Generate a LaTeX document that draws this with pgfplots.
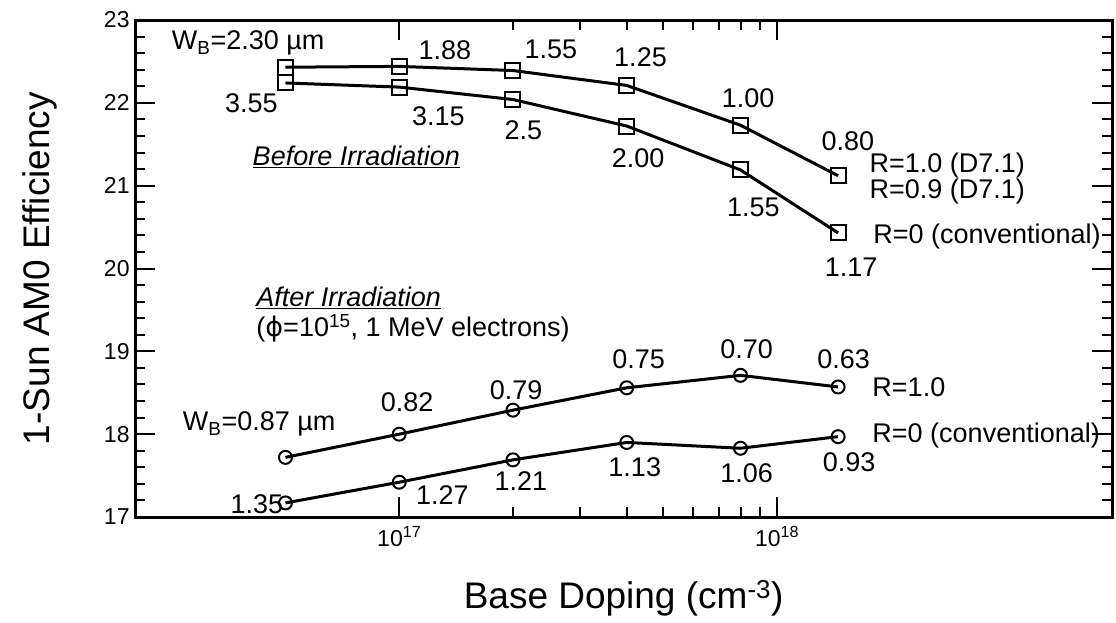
\documentclass[border=0pt]{standalone}
\usepackage{pgfplots}
\pgfplotsset{compat=1.18}
\usepackage{fontspec}
\setmainfont{Liberation Sans}
\newfontfamily\dejavu{DejaVu Sans}
\newcommand\lbl{\fontsize{27}{32}\selectfont}
\newcommand\tkf{\fontsize{23}{27}\selectfont}
\begin{document}
\begin{tikzpicture}[x=1pt,y=1pt]
\useasboundingbox (0,0) rectangle (1116,622);
\begin{axis}[at={(135pt,105pt)}, anchor=south west, scale only axis,
  width=977pt, height=497pt,
  xmode=log, xmin=2e16, xmax=7.7e18, ymin=17, ymax=23,
  xtick={1e17,1e18}, xticklabels={\tkf 10\textsuperscript{17},\tkf 10\textsuperscript{18}},
  ytick={17,18,...,23}, yticklabels={\tkf 17,\tkf 18,\tkf 19,\tkf 20,\tkf 21,\tkf 22,\tkf 23},
  minor y tick num=4,
  tick align=inside, major tick length=20pt, minor tick length=10pt,
  every tick/.style={line width=2pt, black},
  axis line style={line width=3pt},
  tick label style={font=\tkf},
  xticklabel shift=6pt, yticklabel shift=2pt,
  xlabel={Base Doping (cm\textsuperscript{-3})},
  ylabel={1-Sun AM0 Efficiency},
  label style={font=\fontsize{37}{42}\selectfont},
  xlabel style={at={(axis description cs:0.5,-0.1831)}, anchor=base},
  ylabel style={at={(axis description cs:-0.0972,0.5)}, anchor=center},
  clip=false]
% Before irradiation
\addplot[line width=3pt, mark=square, mark size=7.5pt, mark options={line width=2pt, solid}] coordinates {
 (5e16,22.43) (1e17,22.44) (2e17,22.39) (4e17,22.21) (8e17,21.73) (1.45e18,21.12)};
\addplot[line width=3pt, mark=square, mark size=7.5pt, mark options={line width=2pt, solid}] coordinates {
 (5e16,22.24) (1e17,22.19) (2e17,22.04) (4e17,21.72) (8e17,21.19) (1.45e18,20.43)};
% After irradiation
\addplot[line width=3pt, mark=o, mark size=6.5pt, mark options={line width=2pt, solid}] coordinates {
 (5e16,17.72) (1e17,18.0) (2e17,18.29) (4e17,18.56) (8e17,18.71) (1.45e18,18.57)};
\addplot[line width=3pt, mark=o, mark size=6.5pt, mark options={line width=2pt, solid}] coordinates {
 (5e16,17.17) (1e17,17.42) (2e17,17.69) (4e17,17.9) (8e17,17.83) (1.45e18,17.97)};
% labels before
\node[font=\lbl, anchor=west] at (axis cs:2.45e16,22.72) {W\textsubscript{B}=2.30 µm};
\node[font=\lbl] at (axis cs:1.32e17,22.64) {1.88};
\node[font=\lbl] at (axis cs:2.52e17,22.64) {1.55};
\node[font=\lbl] at (axis cs:4.35e17,22.55) {1.25};
\node[font=\lbl] at (axis cs:8.38e17,22.05) {1.00};
\node[font=\lbl] at (axis cs:1.54e18,21.54) {0.80};
\node[font=\lbl, anchor=west] at (axis cs:1.72e18,21.24) {R=1.0 (D7.1)};
\node[font=\lbl, anchor=west] at (axis cs:1.72e18,20.93) {R=0.9 (D7.1)};
\node[font=\lbl, anchor=west] at (axis cs:1.76e18,20.39) {R=0 (conventional)};
\node[font=\lbl] at (axis cs:1.57e18,20.02) {1.17};
\node[font=\lbl] at (axis cs:8.65e17,20.74) {1.55};
\node[font=\lbl] at (axis cs:4.29e17,21.33) {2.00};
\node[font=\lbl] at (axis cs:2.13e17,21.67) {2.5};
\node[font=\lbl] at (axis cs:1.27e17,21.84) {3.15};
\node[font=\lbl] at (axis cs:4.06e16,21.99) {3.55};
\node[font=\lbl] at (axis cs:7.7e16,21.35) {\underline{\itshape Before Irradiation}};
% labels after
\node[font=\lbl, anchor=west] at (axis cs:4.1e16,19.65) {\underline{\itshape After Irradiation}};
\node[font=\lbl, anchor=west] at (axis cs:4.1e16,19.28) {({\dejavu ϕ}=10\textsuperscript{15}, 1 MeV electrons)};
\node[font=\lbl, anchor=west] at (axis cs:2.62e16,18.12) {W\textsubscript{B}=0.87 µm};
\node[font=\lbl] at (axis cs:1.05e17,18.39) {0.82};
\node[font=\lbl] at (axis cs:2.04e17,18.53) {0.79};
\node[font=\lbl] at (axis cs:4.3e17,18.9) {0.75};
\node[font=\lbl] at (axis cs:8.3e17,19.02) {0.70};
\node[font=\lbl] at (axis cs:1.5e18,18.9) {0.63};
\node[font=\lbl, anchor=west] at (axis cs:1.75e18,18.57) {R=1.0};
\node[font=\lbl, anchor=west] at (axis cs:1.75e18,17.98) {R=0 (conventional)};
\node[font=\lbl] at (axis cs:4.2e16,17.15) {1.35};
\node[font=\lbl] at (axis cs:1.3e17,17.27) {1.27};
\node[font=\lbl] at (axis cs:2.1e17,17.43) {1.21};
\node[font=\lbl] at (axis cs:4.2e17,17.6) {1.13};
\node[font=\lbl] at (axis cs:8.3e17,17.53) {1.06};
\node[font=\lbl] at (axis cs:1.55e18,17.66) {0.93};
\end{axis}
\end{tikzpicture}
\end{document}
